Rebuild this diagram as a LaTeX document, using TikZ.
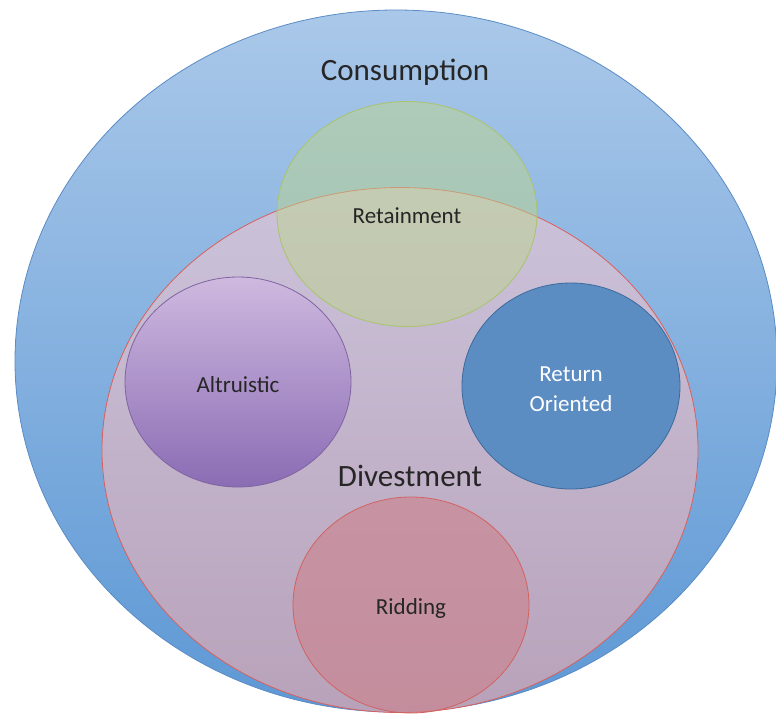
\documentclass[tikz,border=0pt]{standalone}
\usepackage{fontspec}
\setmainfont{Carlito}
\usetikzlibrary{shapes.geometric}
\definecolor{consTop}{HTML}{AAC8E9}
\definecolor{consBot}{HTML}{5D98D5}
\definecolor{consEdge}{HTML}{5B8CC6}
\definecolor{divTop}{HTML}{CBC3DA}
\definecolor{divBot}{HTML}{B8A2BA}
\definecolor{divEdge}{HTML}{D8605C}
\definecolor{retFill}{HTML}{BDD48C}
\definecolor{retEdge}{HTML}{A9C46C}
\definecolor{altTop}{HTML}{CFB9DF}
\definecolor{altBot}{HTML}{8A6CB4}
\definecolor{altEdge}{HTML}{8064A2}
\definecolor{roFill}{HTML}{5B8DC3}
\definecolor{roEdge}{HTML}{3D6A9C}
\definecolor{ridFill}{HTML}{CE7D86}
\definecolor{ridEdge}{HTML}{D2625F}
\tikzset{
  blob/.style={ellipse, inner sep=0pt, line width=0.8pt},
  lbl/.style={font=\fontsize{23}{30}\selectfont, text=black!85},
  big/.style={font=\fontsize{31}{34}\selectfont, text=black!85}
}
\begin{document}
\begin{tikzpicture}[x=1pt,y=-1pt]
  \useasboundingbox (0,0) rectangle (776,715);
  % outer set
  \node[blob, draw=consEdge, top color=consTop, bottom color=consBot,
        minimum width=762pt, minimum height=702pt] (cons) at (396,361) {};
  \node[big] (consLabel) at (405,72) {Consumption};
  % divestment set
  \node[blob, draw=divEdge, top color=divTop, bottom color=divBot,
        minimum width=596pt, minimum height=525pt] (div) at (400,450) {};
  \node[big] (divLabel) at (410,476) {Divestment};
  % retainment, overlapping the divestment border
  \node[blob, draw=retEdge, fill=retFill, fill opacity=0.5, text opacity=1,
        minimum width=260pt, minimum height=225pt] (ret) at (407,214) {};
  \node[lbl] (retLabel) at (407,216) {Retainment};
  % altruistic
  \node[blob, draw=altEdge, top color=altTop, bottom color=altBot,
        minimum width=226pt, minimum height=210pt] (alt) at (238,382) {};
  \node[lbl] (altLabel) at (238,385) {Altruistic};
  % return oriented
  \node[blob, draw=roEdge, fill=roFill,
        minimum width=218pt, minimum height=206pt] (ro) at (571,386) {};
  \node[lbl, text=white, align=center] (roLabel) at (571,389) {Return\\Oriented};
  % ridding
  \node[blob, draw=ridEdge, fill=ridFill, fill opacity=0.55, text opacity=1,
        minimum width=236pt, minimum height=216pt] (rid) at (411,605) {};
  \node[lbl] (ridLabel) at (411,608) {Ridding};
\end{tikzpicture}
\end{document}
